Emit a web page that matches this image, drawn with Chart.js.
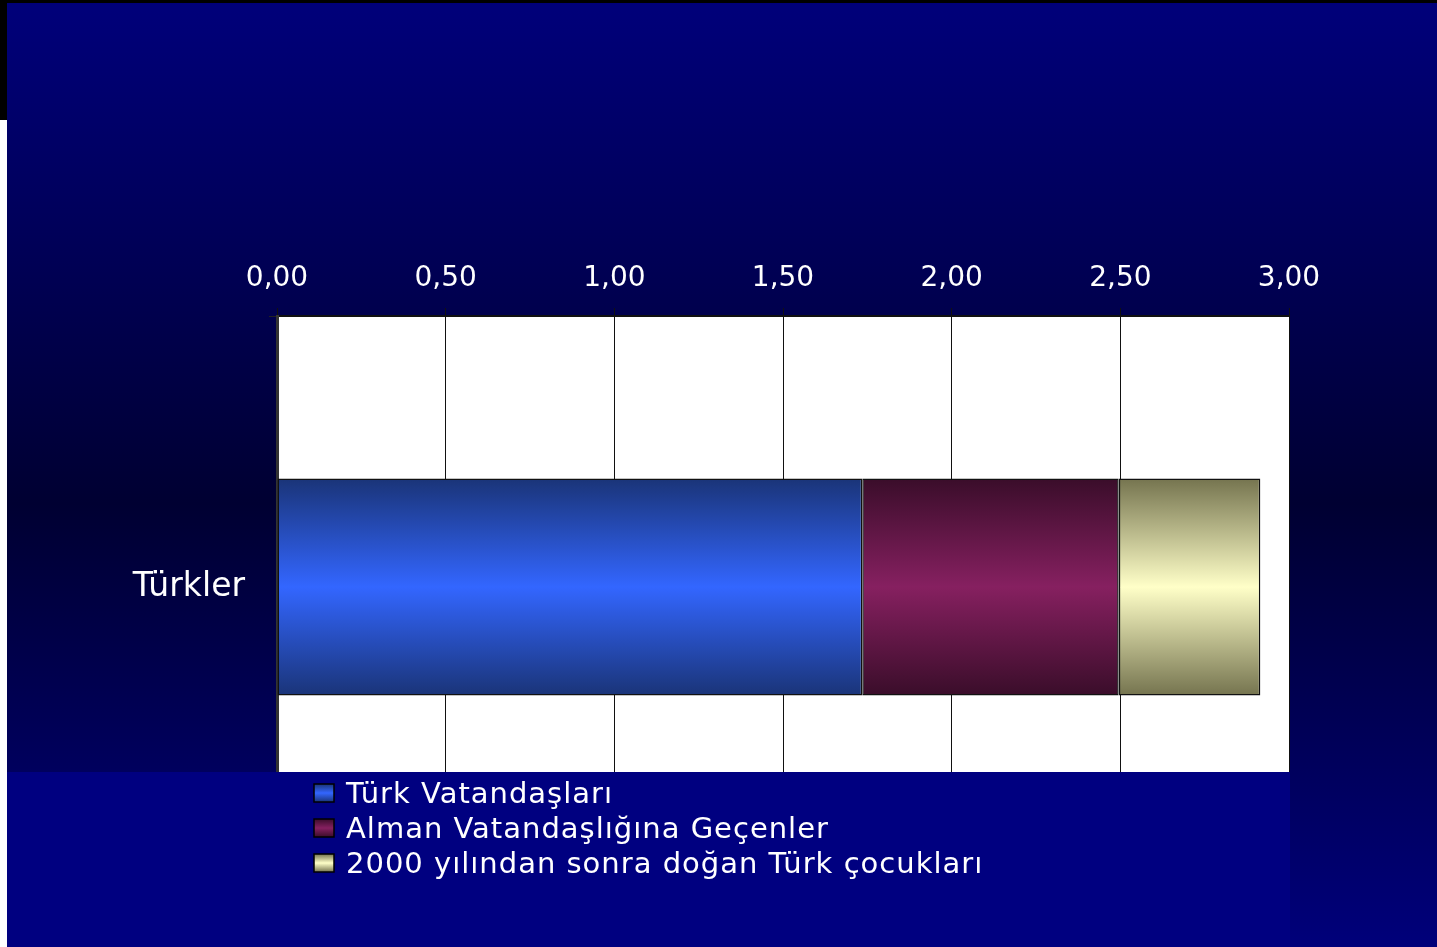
<!DOCTYPE html>
<html>
<head>
<meta charset="utf-8">
<script src="https://cdn.jsdelivr.net/npm/chart.js@4/dist/chart.umd.min.js"></script>
<style>
    html, body { margin: 0; padding: 0; background: #fff; }
    #frame { position: absolute; left: 0; top: 0; width: 1437px; height: 947px; background: #fff; }
    #topline { position: absolute; left: 0; top: 0; width: 1437px; height: 3px; background: #000; }
    #leftline { position: absolute; left: 0; top: 0; width: 7px; height: 120px; background: #000; }
    #wrap { position: absolute; left: 7px; top: 3px; width: 1430px; height: 944px; }
</style>
</head>
<body>
<div id="frame"></div>
<div id="topline"></div>
<div id="leftline"></div>
<div id="wrap"><canvas id="chart"></canvas></div>
<script>
(async function () {

    const categories = ['Türkler']
    const seriesNames = ['Türk Vatandaşları', 'Alman Vatandaşlığına Geçenler', '2000 yılından sonra doğan Türk çocukları']
    const turkVatandaslari = [1.735]
    const almanVatandasligi = [0.76]
    const cocuklar = [0.42]
    const tickValues = [0, 0.5, 1, 1.5, 2, 2.5, 3]

    const fontFamily = '"DejaVu Sans", "Liberation Sans", Arial, sans-serif'

    // edge colour, centre colour for each series
    const shades = [
        ['#1a3478', '#3366ff'],
        ['#3a0d2a', '#862060'],
        ['#75744f', '#ffffc8']
    ]

    function barGradient(ctx, top, bottom, pair) {
        const g = ctx.createLinearGradient(0, top, 0, bottom)
        g.addColorStop(0, pair[0])
        g.addColorStop(0.5, pair[1])
        g.addColorStop(1, pair[0])
        return g
    }

    function fillFor(i) {
        return function (context) {
            const chart = context.chart
            const area = chart.chartArea
            if (!area || !chart.scales.y) return shades[i][1]
            const yScale = chart.scales.y
            const center = yScale.getPixelForValue(context.dataIndex || 0)
            const half = (area.bottom - area.top) / categories.length * 0.4 / 2
            return barGradient(chart.ctx, center - half, center + half, shades[i])
        }
    }

    //background and legend drawn by hand//
    const backdrop = {
        id: 'backdrop',
        beforeDraw(chart) {
            const c = chart.ctx
            const g = c.createLinearGradient(0, 0, 0, chart.height)
            g.addColorStop(0, '#00007a')
            g.addColorStop(0.53, '#000032')
            g.addColorStop(1, '#00007a')
            c.save()
            c.fillStyle = g
            c.fillRect(0, 0, chart.width, chart.height)

            // white plot background
            const a = chart.chartArea
            c.fillStyle = '#fff'
            c.fillRect(a.left, a.top, a.right - a.left, a.bottom - a.top)
            c.restore()
        },
        afterDraw(chart) {
            const c = chart.ctx
            c.save()
            c.fillStyle = '#000080'
            c.fillRect(0, 769, 1283, chart.height - 769)

            chart.data.datasets.forEach((ds, i) => {
                const cy = 790 + i * 35
                c.fillStyle = barGradient(c, cy - 9, cy + 9, shades[i])
                c.fillRect(307, cy - 9, 20, 18)
                c.strokeStyle = '#000'
                c.lineWidth = 1.5
                c.strokeRect(307, cy - 9, 20, 18)

                c.fillStyle = '#fff'
                c.font = '29px ' + fontFamily
                c.letterSpacing = '1px'
                c.textBaseline = 'middle'
                c.fillText(ds.label, 339, cy + 2)
            })
            c.restore()
        }
    }

    const ctx = document.getElementById('chart').getContext('2d')
    const chart = new Chart(ctx, {
        type: 'bar',
        data: {
            labels: categories,
            datasets: [
                { label: seriesNames[0], data: turkVatandaslari, backgroundColor: fillFor(0) },
                { label: seriesNames[1], data: almanVatandasligi, backgroundColor: fillFor(1) },
                { label: seriesNames[2], data: cocuklar, backgroundColor: fillFor(2) }
            ].map(ds => Object.assign(ds, {
                borderColor: '#111',
                borderWidth: 1.5,
                borderSkipped: false,
                categoryPercentage: 0.8,
                barPercentage: 0.5
            }))
        },
        plugins: [backdrop],
        options: {
            indexAxis: 'y',
            responsive: true,
            maintainAspectRatio: false,
            animation: false,
            layout: {
                padding: { left: 0, right: 148, top: 0, bottom: 89 }
            },
            plugins: {
                legend: { display: false },
                tooltip: { enabled: false }
            },
            scales: {
                x: {
                    position: 'top',
                    stacked: true,
                    min: 0,
                    max: 3,
                    afterBuildTicks(scale) {
                        scale.ticks = tickValues.map(v => ({ value: v }))
                    },
                    afterFit(scale) {
                        scale.height = 313
                    },
                    ticks: {
                        color: '#fff',
                        padding: 12,
                        font: { family: fontFamily, size: 28 },
                        callback: v => Number(v).toFixed(2).replace('.', ',')
                    },
                    grid: {
                        color: '#111',
                        lineWidth: 1,
                        tickLength: 8
                    },
                    border: { color: '#111', width: 2 }
                },
                y: {
                    stacked: true,
                    afterFit(scale) {
                        scale.width = 270
                    },
                    ticks: {
                        color: '#fff',
                        padding: 24,
                        font: { family: fontFamily, size: 33 }
                    },
                    grid: {
                        drawOnChartArea: false,
                        color: '#222',
                        tickLength: 8
                    },
                    border: { color: '#333', width: 3 }
                }
            }
        }
    })

})()
</script>
</body>
</html>
